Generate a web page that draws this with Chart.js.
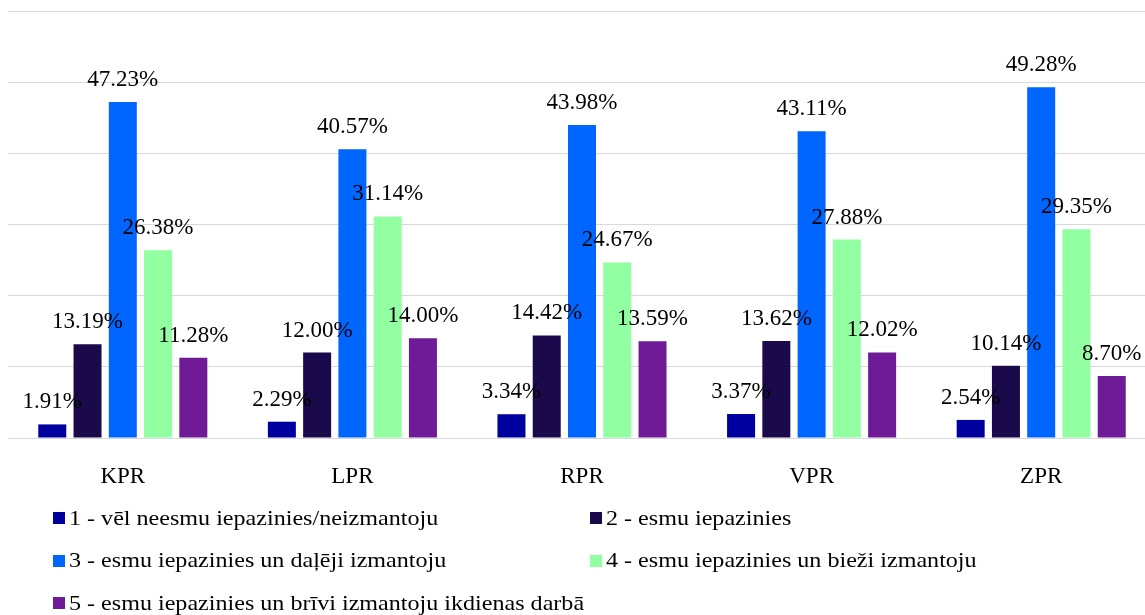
<!DOCTYPE html>
<html><head><meta charset="utf-8">
<script src="https://cdn.jsdelivr.net/npm/chart.js@4.4.1/dist/chart.umd.min.js"></script>
<style>
html,body{margin:0;padding:0;background:#fff;overflow:hidden;width:1145px;height:615px;}
#wrap{position:relative;width:1145px;height:615px;overflow:hidden;}
canvas{position:absolute;left:0;top:0;}
.lg{position:absolute;font-family:'Liberation Serif','Times New Roman',serif;font-size:22px;color:#000;white-space:nowrap;line-height:24px;transform:scaleX(1.095);transform-origin:0 50%;}
.mk{position:absolute;width:12px;height:12px;}
</style></head><body>
<div id="wrap"><canvas id="c" width="1164" height="615"></canvas></div>
<script>
const categories = ['KPR','LPR','RPR','VPR','ZPR'];
const seriesNames = [
  '1 - vēl neesmu iepazinies/neizmantoju',
  '2 - esmu iepazinies',
  '3 - esmu iepazinies un daļēji izmantoju',
  '4 - esmu iepazinies un bieži izmantoju',
  '5 - esmu iepazinies un brīvi izmantoju ikdienas darbā'
];
const series1 = [1.91, 2.29, 3.34, 3.37, 2.54];
const series2 = [13.19, 12.00, 14.42, 13.62, 10.14];
const series3 = [47.23, 40.57, 43.98, 43.11, 49.28];
const series4 = [26.38, 31.14, 24.67, 27.88, 29.35];
const series5 = [11.28, 14.00, 13.59, 12.02, 8.70];
const yTickValues = [0, 10, 20, 30, 40, 50, 60];

const colors = ['#0000A0', '#1B0A4B', '#0066FF', '#92FFA2', '#6F1A96'];
const allSeries = [series1, series2, series3, series4, series5];

const datasets = allSeries.map((d, i) => ({
  label: seriesNames[i],
  data: d,
  backgroundColor: colors[i],
  borderWidth: 0,
  categoryPercentage: 0.768,
  barPercentage: 0.794
}));

const valueLabels = {
  id: 'valueLabels',
  afterDatasetsDraw(chart) {
    const ctx = chart.ctx;
    ctx.save();
    ctx.font = '23px "Liberation Serif"';
    ctx.fillStyle = '#000';
    ctx.textAlign = 'center';
    ctx.textBaseline = 'alphabetic';
    chart.data.datasets.forEach((ds, i) => {
      const meta = chart.getDatasetMeta(i);
      meta.data.forEach((el, j) => {
        ctx.fillText(ds.data[j].toFixed(2) + '%', el.x, el.y - 16);
      });
    });
    ctx.restore();
  }
};

new Chart(document.getElementById('c'), {
  type: 'bar',
  data: { labels: categories, datasets },
  plugins: [valueLabels],
  options: {
    responsive: false,
    animation: false,
    devicePixelRatio: 1,
    layout: { padding: { left: 8, right: 8, top: 11, bottom: 0 } },
    plugins: { legend: { display: false }, tooltip: { enabled: false } },
    scales: {
      x: {
        grid: { display: false },
        border: { display: false },
        ticks: { font: { family: 'Liberation Serif', size: 23 }, color: '#000', padding: 17 },
        afterFit(s) { s.height = 177; }
      },
      y: {
        min: yTickValues[0],
        max: yTickValues[yTickValues.length - 1],
        afterBuildTicks(s) { s.ticks = yTickValues.map(v => ({ value: v })); },
        ticks: { display: false },
        grid: { color: '#D9D9D9', lineWidth: 1, drawTicks: false },
        border: { display: false },
        afterFit(s) { s.width = 0; }
      }
    }
  }
});

// HTML legend (two columns)
const wrap = document.getElementById('wrap');
const colX = [53, 590];
const rowMarkTop = [512, 555, 597];
const rowTextTop = [506, 548, 591];
seriesNames.forEach((name, i) => {
  const col = i % 2, row = Math.floor(i / 2);
  const mk = document.createElement('div');
  mk.className = 'mk';
  mk.style.left = colX[col] + 'px';
  mk.style.top = rowMarkTop[row] + 'px';
  mk.style.background = colors[i];
  wrap.appendChild(mk);
  const t = document.createElement('div');
  t.className = 'lg';
  t.style.left = (colX[col] + 16) + 'px';
  t.style.top = rowTextTop[row] + 'px';
  t.textContent = name;
  wrap.appendChild(t);
});
</script>
</body></html>
